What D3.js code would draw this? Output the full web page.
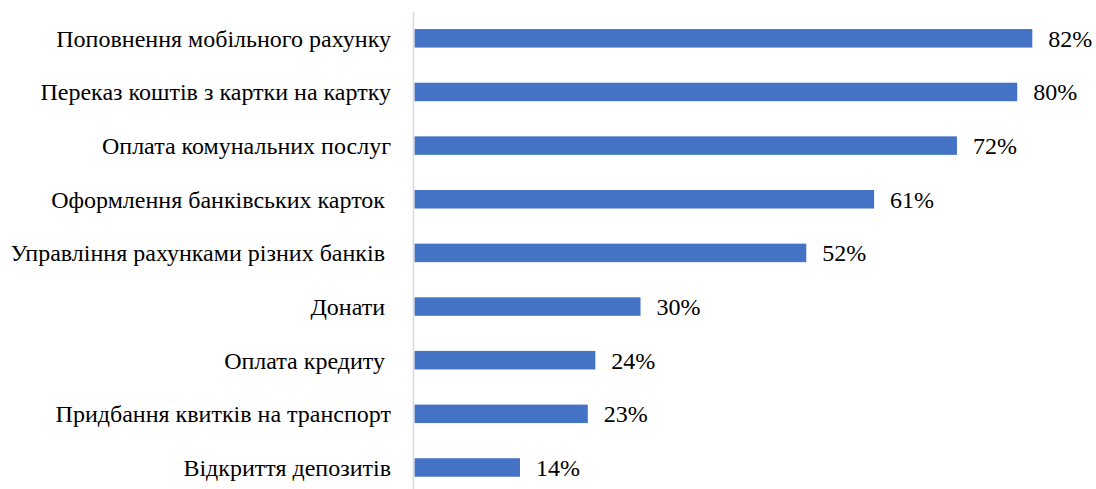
<!DOCTYPE html>
<html>
<head>
<meta charset="utf-8">
<script src="https://cdn.jsdelivr.net/npm/d3@7"></script>
<style>
  html, body { margin: 0; padding: 0; background: #fff; }
  svg { display: block; }
</style>
</head>
<body>
<svg id="chart" width="1096" height="489"></svg>
<script>
// Categories (top to bottom) and their shares, in percent
const categories = [
  "Поповнення мобільного рахунку",
  "Переказ коштів з картки на картку",
  "Оплата комунальних послуг",
  "Оформлення банківських карток ",
  "Управління рахунками різних банків ",
  "Донати ",
  "Оплата кредиту ",
  "Придбання квитків на транспорт",
  "Відкриття депозитів"
];
const values = [82, 80, 72, 61, 52, 30, 24, 23, 14];

const FONT = "Liberation Serif";
const FONT_SIZE = "24px";
const svg = d3.select("#chart");

const x = d3.scaleLinear().domain([0, 82]).range([414.5, 1032.3]);
const y = d3.scaleBand()
  .domain(categories)
  .range([11.5, 494.3])
  .paddingInner(0.655)
  .paddingOuter(0.3275);

const rows = categories.map((c, i) => ({ c, v: values[i] }));

// bars
svg.append("g").selectAll("rect")
  .data(rows)
  .join("rect")
  .attr("x", x(0))
  .attr("y", d => y(d.c))
  .attr("width", d => x(d.v) - x(0))
  .attr("height", y.bandwidth())
  .attr("fill", "#4472C4");

// vertical category axis line
svg.append("line")
  .attr("x1", 413.5).attr("x2", 413.5)
  .attr("y1", 11.5).attr("y2", 494)
  .attr("stroke", "#d9d9d9")
  .attr("stroke-width", 1.5);

// category labels
svg.append("g").selectAll("text")
  .data(rows)
  .join("text")
  .attr("x", 391)
  .attr("y", d => y(d.c) + y.bandwidth() / 2)
  .attr("dy", "0.35em")
  .attr("text-anchor", "end")
  .style("white-space", "pre")
  .style("font-family", FONT)
  .style("font-size", FONT_SIZE)
  .style("fill", "#000")
  .text(d => d.c);

// value labels
svg.append("g").selectAll("text")
  .data(rows)
  .join("text")
  .attr("x", d => x(d.v) + 16)
  .attr("y", d => y(d.c) + y.bandwidth() / 2)
  .attr("dy", "0.35em")
  .style("font-family", FONT)
  .style("font-size", FONT_SIZE)
  .style("fill", "#000")
  .text(d => d.v + "%");
</script>
</body>
</html>
